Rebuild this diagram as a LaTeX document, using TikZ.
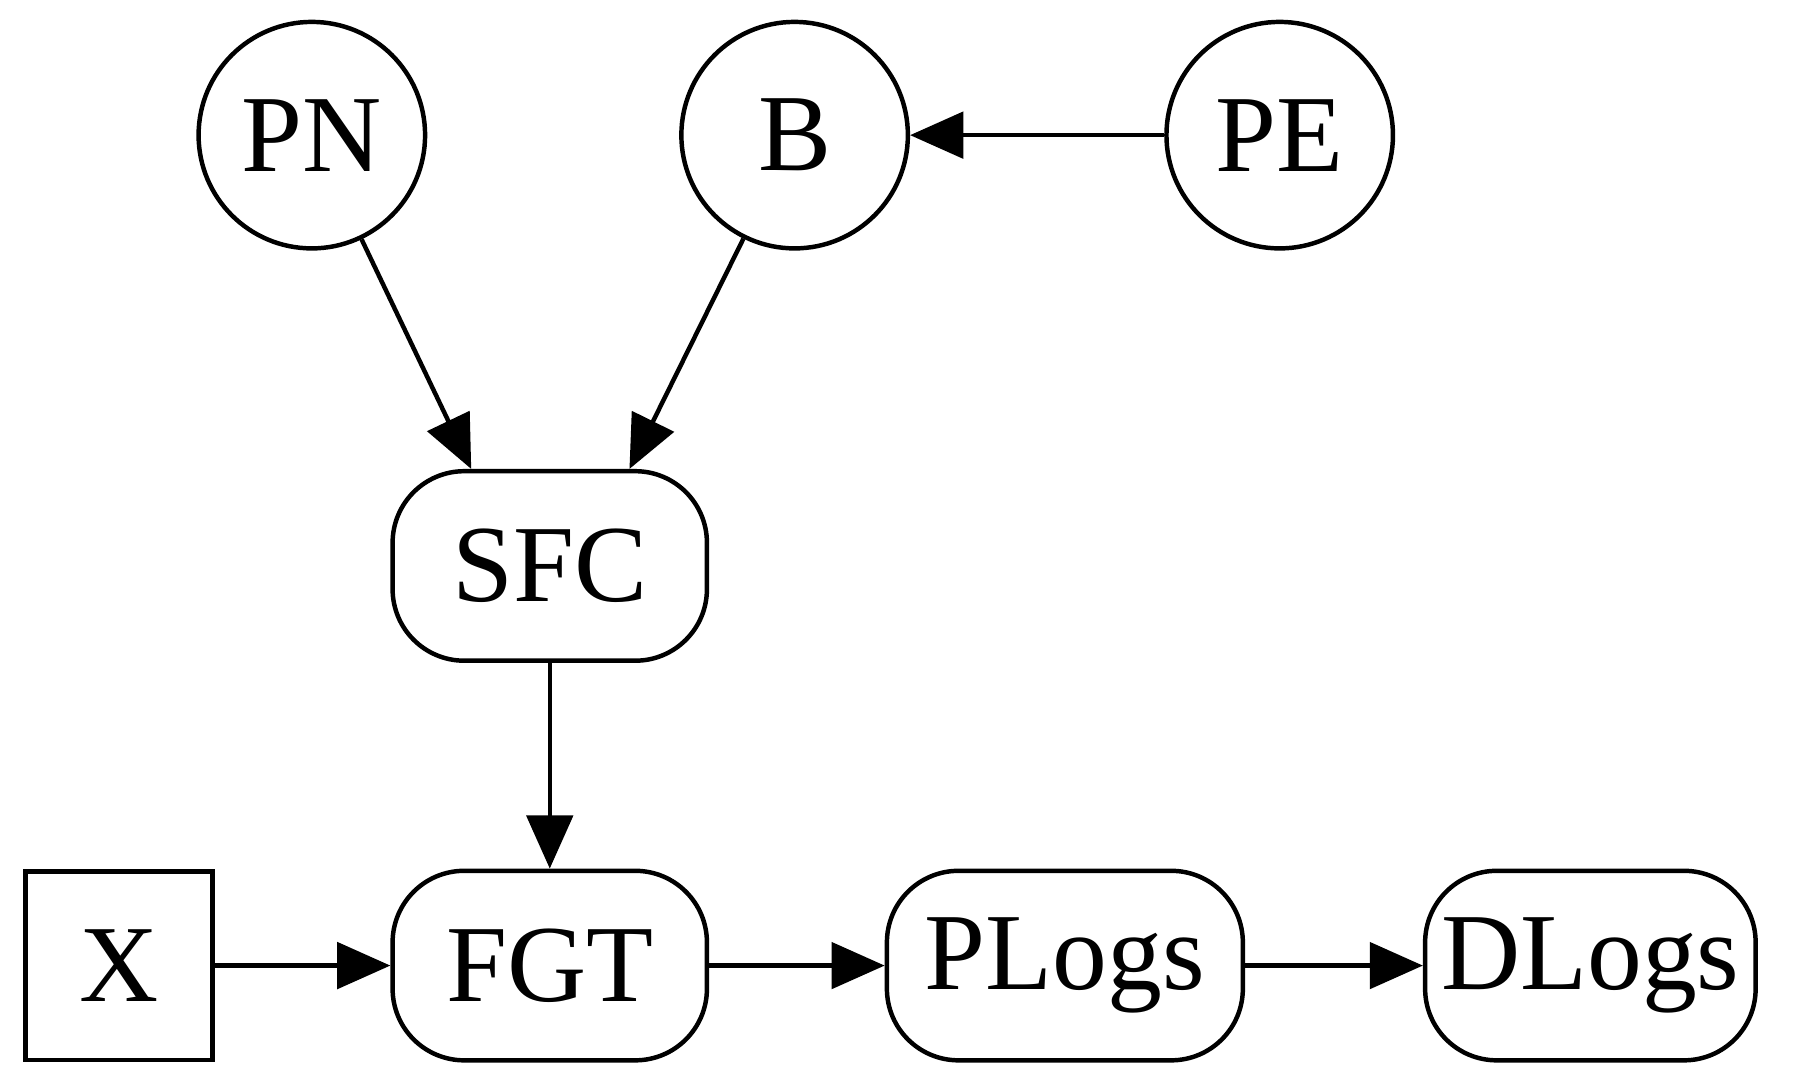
\documentclass[tikz,border=0pt]{standalone}
\usepackage{fontspec}
\setmainfont{Liberation Serif}
\usetikzlibrary{arrows.meta,calc}
\begin{document}
\begin{tikzpicture}[x=0.01cm,y=-0.01cm,
  every node/.style={font=\fontsize{27}{30}\selectfont, line width=1.1pt, draw, inner sep=0pt},
  circ/.style={circle, minimum size=1.96cm},
  rr/.style={rectangle, rounded corners=0.62cm, minimum height=1.64cm},
  box/.style={rectangle, minimum width=1.62cm, minimum height=1.63cm},
  arr/.style={line width=1.1pt, -{Triangle[length=0.46cm,width=0.4cm]}}]
\useasboundingbox (0,0) rectangle (1568,935);
\node[circ] (PN) at (270,117) {PN};
\node[circ] (B) at (688,117) {B};
\node[circ] (PE) at (1108,117) {PE};
\node[rr, minimum width=2.72cm] (SFC) at (476,490) {SFC};
\node[rr, minimum width=2.72cm] (FGT) at (476,836) {FGT};
\node[rr, minimum width=3.08cm] (PLogs) at (922,836) {PLogs};
\node[rr, minimum width=2.86cm] (DLogs) at (1377,836) {DLogs};
\node[box] (X) at (103,836) {X};
\draw[arr] (PE) -- (B);
\draw[arr] (PN) -- ($(SFC.north)+(-68,0)$);
\draw[arr] (B) -- ($(SFC.north)+(69,0)$);
\draw[arr] (SFC) -- (FGT);
\draw[arr] (X) -- (FGT);
\draw[arr] (FGT) -- (PLogs);
\draw[arr] (PLogs) -- (DLogs);
\end{tikzpicture}
\end{document}
